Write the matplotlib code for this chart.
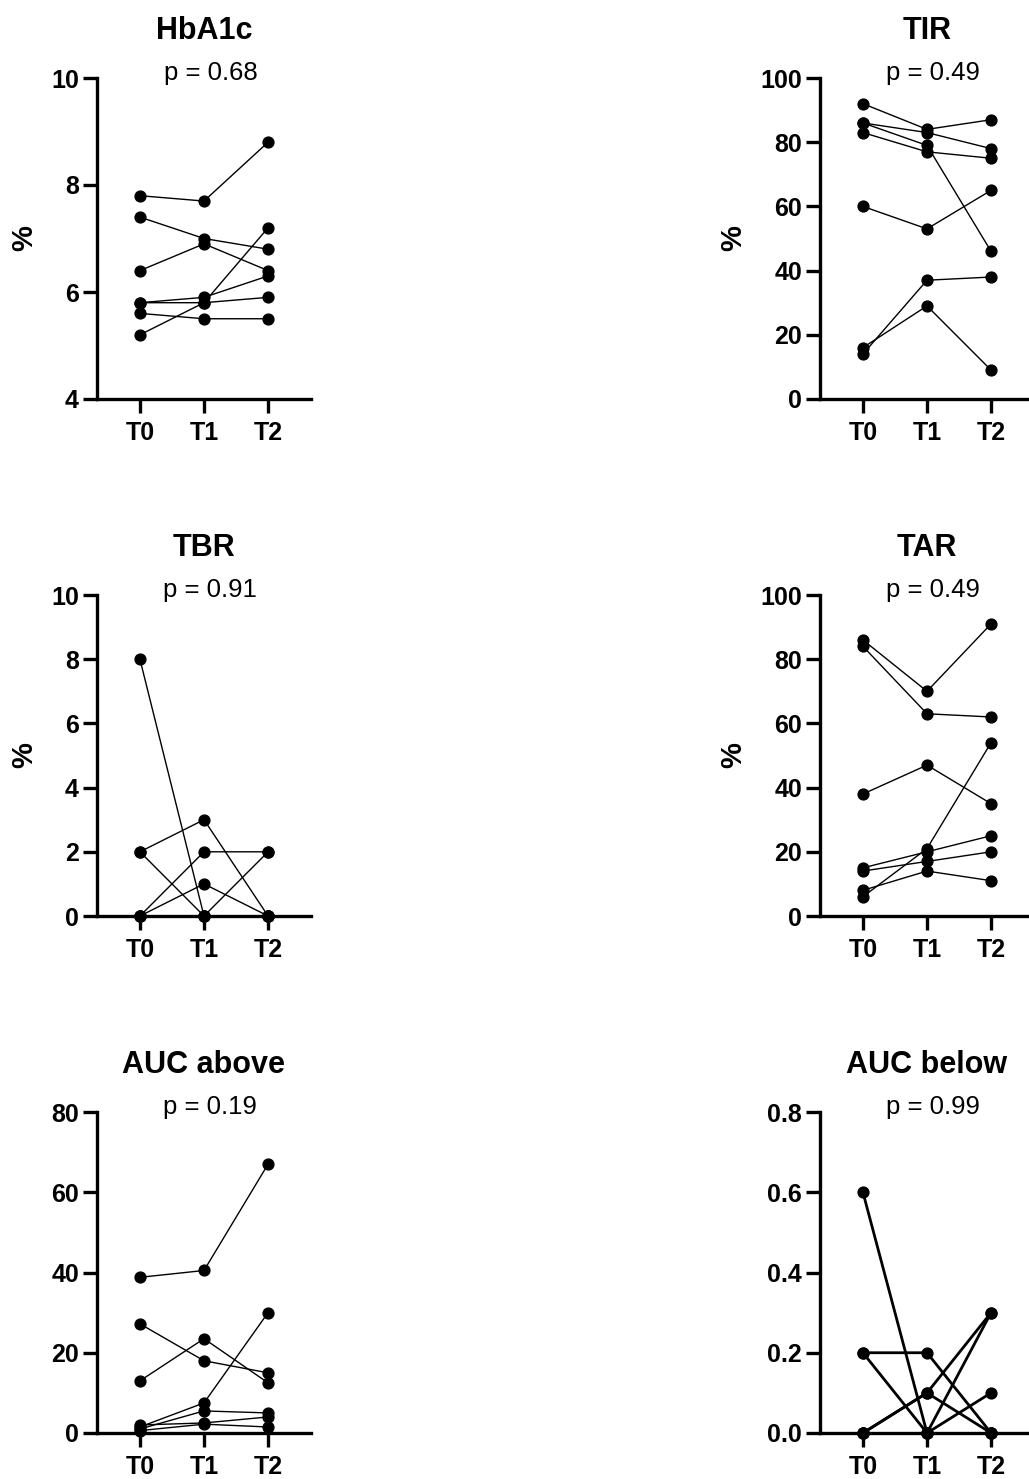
import matplotlib
matplotlib.use("Agg")
import matplotlib.pyplot as plt
import numpy as np

plt.rcParams['font.family'] = ['Liberation Sans', 'DejaVu Sans']

# x categories
timepoints = ['T0', 'T1', 'T2']

# HbA1c (%), one row per subject: T0, T1, T2
hba1c_t0 = [7.8, 7.4, 6.4, 5.8, 5.8, 5.6, 5.2]
hba1c_t1 = [7.7, 7.0, 6.9, 5.9, 5.8, 5.5, 5.8]
hba1c_t2 = [8.8, 6.8, 6.4, 6.3, 5.9, 5.5, 7.2]

# TIR (%)
tir_t0 = [92, 86, 86, 83, 60, 16, 14]
tir_t1 = [84, 83, 79, 77, 53, 29, 37]
tir_t2 = [87, 78, 46, 75, 65, 9, 38]

# TBR (%)
tbr_t0 = [8, 2, 2, 0, 0, 0, 0]
tbr_t1 = [0, 3, 0, 2, 1, 0, 0]
tbr_t2 = [0, 0, 2, 2, 0, 0, 0]

# TAR (%)
tar_t0 = [86, 84, 38, 15, 14, 8, 6]
tar_t1 = [70, 63, 47, 20, 17, 14, 21]
tar_t2 = [91, 62, 35, 25, 20, 11, 54]

# AUC above
aucab_t0 = [38.8, 27.2, 13.0, 1.5, 1.0, 2.0, 0.6]
aucab_t1 = [40.5, 18.0, 23.5, 7.5, 5.5, 2.5, 2.2]
aucab_t2 = [67.0, 15.0, 12.5, 30.0, 5.0, 4.0, 1.5]

# AUC below
aucbe_t0 = [0.6, 0.2, 0.2, 0.0, 0.0, 0.0, 0.0]
aucbe_t1 = [0.0, 0.2, 0.0, 0.1, 0.1, 0.0, 0.0]
aucbe_t2 = [0.3, 0.0, 0.1, 0.3, 0.0, 0.0, 0.0]

titles = ['HbA1c', 'TIR', 'TBR', 'TAR', 'AUC above', 'AUC below']
pvalues = ['p = 0.68', 'p = 0.49', 'p = 0.91', 'p = 0.49', 'p = 0.19', 'p = 0.99']
ylabels = ['%', '%', '%', '%', '', '']
yticks = [[4, 6, 8, 10], [0, 20, 40, 60, 80, 100], [0, 2, 4, 6, 8, 10],
          [0, 20, 40, 60, 80, 100], [0, 20, 40, 60, 80], [0.0, 0.2, 0.4, 0.6, 0.8]]
panels = [(hba1c_t0, hba1c_t1, hba1c_t2), (tir_t0, tir_t1, tir_t2),
          (tbr_t0, tbr_t1, tbr_t2), (tar_t0, tar_t1, tar_t2),
          (aucab_t0, aucab_t1, aucab_t2), (aucbe_t0, aucbe_t1, aucbe_t2)]

W, H = 1029, 1479
fig = plt.figure(figsize=(W / 100, H / 100), dpi=100)

lefts = [97, 820]
tops = [78, 595, 1112]
aw, ah = 214, 321

for i in range(6):
    row, col = i // 2, i % 2
    ax = fig.add_axes([lefts[col] / W, 1 - (tops[row] + ah) / H, aw / W, ah / H])
    data = np.array(panels[i]).T
    x = np.arange(3)
    lw = 2.0 if i == 5 else 1.0
    for subj in data:
        ax.plot(x, subj, color='black', lw=lw, marker='o', ms=7.8, clip_on=False, zorder=3)
    yt = yticks[i]
    ax.set_ylim(yt[0], yt[-1])
    ax.set_yticks(yt)
    if i == 5:
        ax.set_yticklabels(['%.1f' % v for v in yt])
    ax.set_xlim(-0.67, 2.67)
    ax.set_xticks(x)
    ax.set_xticklabels(timepoints)
    for s in ['top', 'right']:
        ax.spines[s].set_visible(False)
    for s in ['left', 'bottom']:
        ax.spines[s].set_linewidth(2.4)
    ax.tick_params(width=2.4, length=10, labelsize=18, pad=3)
    ax.tick_params(axis='x', pad=6)
    for lab in ax.get_xticklabels() + ax.get_yticklabels():
        lab.set_fontweight('bold')
    if ylabels[i]:
        ax.set_ylabel(ylabels[i], fontsize=21, fontweight='bold', labelpad=9)
    ax.set_title(titles[i], fontsize=22, fontweight='bold', pad=28)
    ax.text(0.53, 1.015, pvalues[i], transform=ax.transAxes, ha='center', va='center', fontsize=18.5)

fig.savefig('out.png', dpi=100)
